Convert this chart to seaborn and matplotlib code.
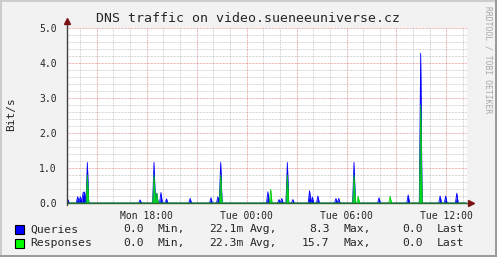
import matplotlib
matplotlib.use("Agg")
import numpy as np
import pandas as pd
import seaborn as sns
import matplotlib.pyplot as plt
from matplotlib.ticker import FixedLocator, MultipleLocator, FuncFormatter
from matplotlib.patches import Rectangle
from matplotlib.lines import Line2D

# ---------------- data ----------------
title = "DNS traffic on video.sueneeuniverse.cz"
y_label = "Bit/s"
watermark = "RRDTOOL / TOBI OETIKER"

start_hour = 13.2          # Mon 13:12, hours since Mon 00:00
step_per_hour = 12         # 5-minute samples
n_samples = 289

query_idx = [1, 8, 9, 10, 11, 12, 13, 15, 53, 63, 65, 68, 72, 89, 104, 109, 111,
             145, 153, 155, 159, 163, 175, 177, 181, 194, 196, 207, 225, 246,
             255, 269, 273, 281]
query_val = [0.10, 0.18, 0.04, 0.18, 0.04, 0.31, 0.31, 1.16, 0.09, 1.16, 0.28,
             0.30, 0.12, 0.13, 0.15, 0.18, 1.16, 0.32, 0.10, 0.13, 1.16, 0.10,
             0.35, 0.17, 0.20, 0.13, 0.13, 1.16, 0.15, 0.23, 4.28, 0.20, 0.20,
             0.28]
response_idx = [15, 63, 65, 111, 147, 159, 207, 210, 233, 255]
response_val = [0.80, 0.80, 0.28, 0.80, 0.40, 0.80, 0.80, 0.20, 0.20, 2.80]

x_tick_hours = [18, 24, 30, 36]
x_tick_labels = ["Mon 18:00", "Tue 00:00", "Tue 06:00", "Tue 12:00"]
y_ticks = [0, 1, 2, 3, 4, 5]

series_names = ["Queries", "Responses"]
series_colors = ["#0000FF", "#00FF00"]
legend_min = ["0.0", "0.0"]
legend_avg = ["22.1m", "22.3m"]
legend_max = ["8.3", "15.7"]
legend_last = ["0.0", "0.0"]

# ---------------- build frame ----------------
hours = start_hour + np.arange(n_samples) / step_per_hour
queries = np.zeros(n_samples)
queries[query_idx] = query_val
responses = np.zeros(n_samples)
responses[response_idx] = response_val
df = pd.DataFrame({"hour": hours, "Queries": queries, "Responses": responses})

# ---------------- style ----------------
W, H = 497, 257
BACK = "#F2F2F2"
sns.set_style("white")
plt.rcParams['font.family'] = ['DejaVu Sans Mono']

fig = plt.figure(figsize=(W / 100, H / 100), dpi=100, facecolor=BACK)
ax = fig.add_axes([66.5 / W, (H - 203) / H, 400 / W, 175 / H])
ax.set_facecolor("white")

x0, x1 = start_hour, start_hour + 24
ax.set_xlim(x0, x1)
ax.set_ylim(0, 5)

# grid
grid_c = (0.55, 0.55, 0.55, 0.45)
mgrid_c = (0.80, 0.15, 0.15, 0.45)
dots = (0, (0.72, 0.72))
for h in np.arange(np.ceil(x0), x1):
    major = (h % 3 == 0)
    ax.axvline(h, color=mgrid_c if major else grid_c, lw=0.72, ls=dots, zorder=1)
for v in np.arange(0.2, 5.01, 0.2):
    major = abs(v - round(v)) < 1e-6
    ax.axhline(v, color=mgrid_c if major else grid_c, lw=0.72, ls=dots, zorder=1)

# data
ax.fill_between(df["hour"], 0, df["Queries"], color="#0000FF", lw=0, zorder=2)
sns.lineplot(data=df, x="hour", y="Queries", ax=ax, color="#0000FF", lw=0.6, zorder=3)
ax.fill_between(df["hour"], 0, df["Responses"], color="#00DD22", lw=0, zorder=4)
sns.lineplot(data=df, x="hour", y="Responses", ax=ax, color="#00CC00", lw=0.5, zorder=5)

ax.set_xlim(x0, x1)
ax.set_ylim(0, 5)
ax.set_xlabel("")
ax.set_ylabel("")

for s in ax.spines.values():
    s.set_visible(False)

# axes lines + arrows
tr = ax.transAxes
ax.add_line(Line2D([0, 1.012], [0, 0], transform=tr, color="#2B6B2B", lw=1.0,
                   clip_on=False, zorder=6))
ax.add_line(Line2D([0, 0], [-0.012, 1.04], transform=tr, color="#404040", lw=1.0,
                   clip_on=False, zorder=6))
ax.plot([1.012], [0], transform=tr, marker=">", color="#7A1515", ms=5,
        clip_on=False, zorder=7)
ax.plot([0], [1.04], transform=tr, marker="^", color="#7A1515", ms=5,
        clip_on=False, zorder=7)

# ticks
label_map = dict(zip(x_tick_hours, x_tick_labels))
ax.xaxis.set_major_locator(MultipleLocator(3))
ax.xaxis.set_major_formatter(FuncFormatter(lambda v, p: label_map.get(int(round(v)), "")
                                           if abs(v - round(v)) < 1e-6 else ""))
ax.xaxis.set_minor_locator(MultipleLocator(1))
ax.yaxis.set_major_locator(FixedLocator(y_ticks))
ax.yaxis.set_major_formatter(FuncFormatter(lambda v, p: f"{v:.1f}"))
ax.yaxis.set_minor_locator(MultipleLocator(0.2))
ax.tick_params(axis="x", which="major", length=2, width=0.7, color="#C04040",
               labelsize=7, pad=4, direction="out")
ax.tick_params(axis="x", which="minor", length=2, width=0.7, color="#A0A0A0",
               direction="out")
ax.tick_params(axis="y", which="major", length=2, width=0.7, color="#C04040",
               labelsize=7, pad=5, direction="out")
ax.tick_params(axis="y", which="minor", length=2, width=0.7, color="#A0A0A0",
               direction="out")

# texts
def fx(px):
    return px / W

def fy(py):
    return 1 - py / H

fig.text(fx(248), fy(19), title, ha="center", va="center", fontsize=9.5)
fig.text(fx(11), fy(114), y_label, ha="center", va="center", rotation=90, fontsize=8)
fig.text(fx(488), fy(60), watermark, ha="center", va="center", rotation=270,
         fontsize=5.8, color="#A8A8A8")

rows_y = [229.3, 243.3]
for i, name in enumerate(series_names):
    yy = rows_y[i]
    fig.patches.append(Rectangle((fx(15), fy(yy + 4.5)), 9 / W, 9 / H,
                                 transform=fig.transFigure, facecolor=series_colors[i],
                                 edgecolor="black", lw=0.8))
    fs = 8.2
    fig.text(fx(30), fy(yy), name, ha="left", va="center", fontsize=fs)
    fig.text(fx(143.5), fy(yy), legend_min[i], ha="right", va="center", fontsize=fs)
    fig.text(fx(157), fy(yy), "Min,", ha="left", va="center", fontsize=fs)
    fig.text(fx(243.5), fy(yy), legend_avg[i], ha="right", va="center", fontsize=fs)
    fig.text(fx(249.5), fy(yy), "Avg,", ha="left", va="center", fontsize=fs)
    fig.text(fx(329.5), fy(yy), legend_max[i], ha="right", va="center", fontsize=fs)
    fig.text(fx(344), fy(yy), "Max,", ha="left", va="center", fontsize=fs)
    fig.text(fx(422.5), fy(yy), legend_last[i], ha="right", va="center", fontsize=fs)
    fig.text(fx(437), fy(yy), "Last", ha="left", va="center", fontsize=fs)

# 3D frame
fig.add_artist(Line2D([0, 1], [1 - 0.5 / H, 1 - 0.5 / H], transform=fig.transFigure,
                      color="#CBCBCB", lw=1.4))
fig.add_artist(Line2D([0.5 / W, 0.5 / W], [0, 1], transform=fig.transFigure,
                      color="#CBCBCB", lw=1.4))
fig.add_artist(Line2D([0, 1], [1 / H, 1 / H], transform=fig.transFigure,
                      color="#999999", lw=1.4))
fig.add_artist(Line2D([1 - 1 / W, 1 - 1 / W], [0, 1], transform=fig.transFigure,
                      color="#999999", lw=1.4))

fig.savefig("out.png", dpi=100, facecolor=BACK)
